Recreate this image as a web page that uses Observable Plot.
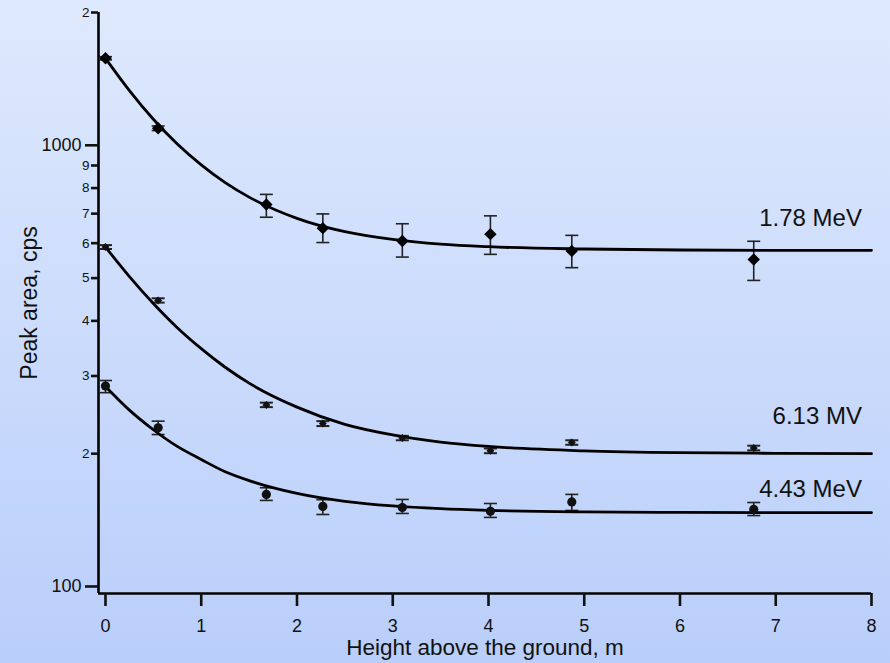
<!DOCTYPE html>
<html>
<head>
<meta charset="utf-8">
<script src="https://cdn.jsdelivr.net/npm/d3@7"></script>
<script src="https://cdn.jsdelivr.net/npm/@observablehq/plot@0.6"></script>
<style>
  html, body { margin: 0; padding: 0; }
  #chart {
    width: 890px; height: 663px;
    background: linear-gradient(to bottom, #dee9fd, #b9cefa);
  }
  #chart svg { display: block; }
</style>
</head>
<body>
<div id="chart"></div>
<script>
// Detector heights above ground (m)
const heights = [0, 0.55, 1.68, 2.27, 3.1, 4.02, 4.87, 6.77];

// 1.78 MeV peak: measured areas (cps) with error limits
const peak178 = [1575, 1093, 734, 649, 607, 629, 576, 551];
const peak178Lo = [1562, 1080, 687, 602, 558, 566, 528, 494];
const peak178Hi = [1588, 1106, 774, 699, 664, 692, 625, 606];

// 6.13 MeV peak
const peak613 = [588, 445, 258, 234, 217, 203, 212, 206];
const peak613Lo = [582, 440, 255, 231, 214.5, 200.5, 209.5, 203.5];
const peak613Hi = [594, 450, 261, 237, 219.5, 205.5, 214.5, 208.5];

// 4.43 MeV peak
const peak443 = [284.6, 229, 161.7, 151.9, 151, 148, 155.5, 149.5];
const peak443Lo = [275, 221, 156.7, 145.6, 146.4, 143.4, 148.7, 144.8];
const peak443Hi = [293, 237, 167.4, 157.3, 157.5, 154.2, 161.7, 155];

// Fitted attenuation curves, sampled along the height axis
const fitHeights = [0, 0.25, 0.5, 0.75, 1, 1.25, 1.5, 2, 2.5, 3, 3.5, 4, 5, 6, 7, 8];
const fit178 = [1575, 1331, 1146, 1007, 903, 823, 763, 683, 637, 612, 597, 589, 582, 579, 578, 578];
const fit613 = [588, 504, 438, 386, 346, 314, 289, 255, 233, 220.5, 212.5, 207.7, 202.9, 201, 200.4, 200];
const fit443 = [284, 251, 226.6, 207.7, 194, 182, 173.8, 162.6, 156, 152.3, 150.1, 148.8, 147.6, 147.2, 147, 147];

// Series labels and where they sit (height, cps)
const seriesNames = ["1.78 MeV", "6.13 MV", "4.43 MeV"];
const labelHeights = [7.9, 7.9, 7.9];
const labelValues = [683, 243, 166];

// Axis ticks
const xTicks = [0, 1, 2, 3, 4, 5, 6, 7, 8];
const yMajorTicks = [100, 1000];
const yMinorTicks = [200, 300, 400, 500, 600, 700, 800, 900, 2000];

const xDomain = [-0.073, 8];
const yDomain = [96.4, 2000];

const rows = (vals, lo, hi) => heights.map((h, i) => ({h, v: vals[i], lo: lo[i], hi: hi[i]}));
const s178 = rows(peak178, peak178Lo, peak178Hi);
const s613 = rows(peak613, peak613Lo, peak613Hi);
const s443 = rows(peak443, peak443Lo, peak443Hi);

const fitRows = (vals) => fitHeights.map((h, i) => ({h, v: vals[i]}));
const labels = seriesNames.map((name, i) => ({name, h: labelHeights[i], v: labelValues[i]}));

// Horizontal error-bar cap drawn as a dot symbol (half-width = r)
const capSymbol = {
  draw(ctx, size) {
    const w = Math.sqrt(size / Math.PI);
    ctx.moveTo(-w, 0);
    ctx.lineTo(w, 0);
  }
};

const minorFormat = d => String(d / 10 ** Math.floor(Math.log10(d)));
const fontFamily = "'Liberation Sans', Arial, sans-serif";

function errorMarks(data, capR, width) {
  return [
    Plot.ruleX(data, {x: "h", y1: "lo", y2: "hi", stroke: "#222", strokeWidth: width}),
    Plot.dot(data, {x: "h", y: "lo", symbol: capSymbol, r: capR, stroke: "#222", strokeWidth: width, fill: "none"}),
    Plot.dot(data, {x: "h", y: "hi", symbol: capSymbol, r: capR, stroke: "#222", strokeWidth: width, fill: "none"})
  ];
}

const chart = Plot.plot({
  width: 890,
  height: 663,
  marginLeft: 98,
  marginRight: 19,
  marginTop: 12,
  marginBottom: 70,
  style: {fontFamily, background: "transparent", color: "#111"},
  x: {domain: xDomain},
  y: {type: "log", domain: yDomain},
  marks: [
    // axis lines
    Plot.ruleX([xDomain[0]], {stroke: "#000", strokeWidth: 2.6}),
    Plot.ruleY([yDomain[0]], {stroke: "#000", strokeWidth: 2.6}),
    Plot.axisX({ticks: xTicks, tickSize: 13, tickPadding: 13, fontSize: 18, strokeWidth: 2.6, tickFormat: d => String(d), label: null}),
    Plot.axisY({ticks: yMajorTicks, tickSize: 13, tickPadding: 4, fontSize: 18, strokeWidth: 2.6, tickFormat: d => String(d), label: null}),
    Plot.axisY({ticks: yMinorTicks, tickSize: 7, tickPadding: 2, fontSize: 13.5, strokeWidth: 2.6, tickFormat: minorFormat, label: null}),
    // axis titles
    Plot.text(["Height above the ground, m"], {frameAnchor: "bottom", dy: 61, fontSize: 22.5, fill: "#111"}),
    Plot.text(["Peak area, cps"], {frameAnchor: "left", textAnchor: "middle", dx: -69, rotate: -90, fontSize: 23, fill: "#111"}),
    // error bars
    ...errorMarks(s178, 6.5, 1.6),
    ...errorMarks(s613, 6.5, 2),
    ...errorMarks(s443, 6.5, 1.6),
    // fitted curves
    Plot.line(fitRows(fit178), {x: "h", y: "v", curve: "monotone-x", stroke: "#000", strokeWidth: 2.8}),
    Plot.line(fitRows(fit613), {x: "h", y: "v", curve: "monotone-x", stroke: "#000", strokeWidth: 2.8}),
    Plot.line(fitRows(fit443), {x: "h", y: "v", curve: "monotone-x", stroke: "#000", strokeWidth: 2.8}),
    // measured points
    Plot.dot(s178, {x: "h", y: "v", symbol: "diamond2", r: 5.6, fill: "#000", stroke: "none"}),
    Plot.dot(s613, {x: "h", y: "v", symbol: "diamond2", r: 3.6, fill: "#111", stroke: "none"}),
    Plot.dot(s443, {x: "h", y: "v", symbol: "circle", r: 4.6, fill: "#111", stroke: "none"}),
    // series labels
    Plot.text(labels, {x: "h", y: "v", text: "name", textAnchor: "end", fontSize: 24, fill: "#111"})
  ]
});

document.getElementById("chart").appendChild(chart);
</script>
</body>
</html>
